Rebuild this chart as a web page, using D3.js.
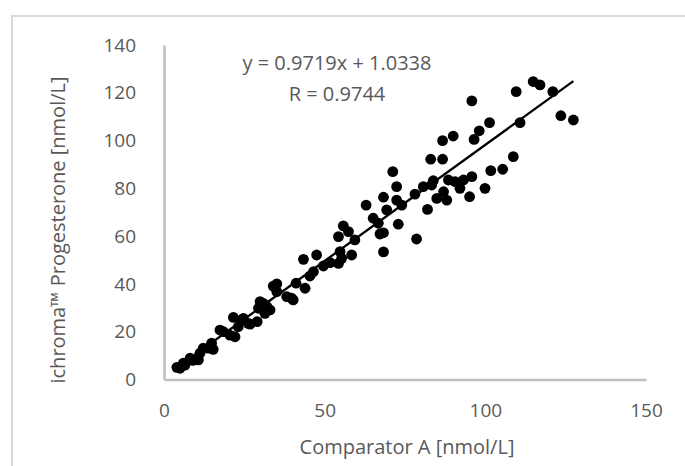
<!DOCTYPE html>
<html>
<head>
<meta charset="utf-8">
<script src="https://cdn.jsdelivr.net/npm/d3@7"></script>
<style>
  body { margin: 0; background: #fff; }
  text { font-family: "Open Sans", sans-serif; fill: #595959; }
</style>
</head>
<body>
<div id="chart"></div>
<script>
// comparator A values (x) and ichroma values (y)
var compA = [4.0, 5.0, 6.0, 6.5, 8.1, 9.0, 10.7, 11.2, 12.2, 13.8, 14.8, 15.3, 17.4, 18.5, 20.5, 22.1,
  21.6, 23.1, 24.2, 24.7, 26.2, 26.8, 29.0, 29.4, 29.9, 30.9, 32.0, 31.4, 33.0, 34.0, 35.1, 35.1,
  38.2, 39.7, 40.2, 41.1, 43.9, 43.4, 47.5, 45.4, 46.5, 49.6, 51.7, 54.3, 54.8, 55.3, 58.4, 55.8,
  57.4, 54.3, 59.4, 62.9, 65.1, 66.7, 67.2, 68.3, 68.3, 72.9, 78.6, 68.3, 69.3, 72.4, 74.0, 72.4,
  71.2, 78.1, 80.7, 83.3, 82.0, 84.9, 87.0, 88.0, 88.5, 83.8, 90.6, 92.1, 93.2, 95.8, 95.1, 99.9,
  101.7, 105.4, 108.7, 83.0, 86.7, 86.7, 90.0, 96.5, 98.1, 101.3, 95.8, 109.6, 110.8, 114.9, 117.0,
  121.0, 123.5, 127.4];
var ichroma = [5.1, 4.7, 6.8, 6.0, 8.9, 8.0, 8.2, 11.0, 13.1, 13.1, 15.2, 12.6, 20.7, 20.0, 18.6, 17.9,
  26.0, 22.1, 24.9, 25.6, 23.5, 23.2, 24.2, 29.8, 32.6, 31.9, 30.5, 27.7, 29.1, 39.1, 40.0, 36.8,
  34.7, 34.0, 33.3, 40.3, 38.2, 50.3, 52.1, 43.3, 45.1, 47.5, 48.9, 48.6, 53.5, 50.7, 52.1, 64.3,
  61.9, 59.8, 58.4, 73.0, 67.5, 65.4, 60.9, 61.4, 53.4, 65.0, 58.8, 76.3, 71.0, 75.1, 73.0, 80.7,
  87.0, 77.6, 80.7, 81.4, 71.2, 75.8, 78.6, 75.1, 83.5, 83.2, 82.8, 80.0, 83.5, 84.9, 76.5, 80.0,
  87.4, 88.0, 93.3, 92.2, 92.2, 100.0, 101.9, 100.5, 104.1, 107.5, 116.6, 120.5, 107.5, 124.7, 123.3,
  120.5, 110.4, 108.6];
var xTicks = [0, 50, 100, 150];
var yTicks = [0, 20, 40, 60, 80, 100, 120, 140];
var slope = 0.9719, intercept = 1.0338;
var eqLines = ["y = 0.9719x + 1.0338", "R = 0.9744"];

var W = 685, H = 466;
var svg = d3.select("#chart").append("svg")
  .attr("width", W).attr("height", H);

// outer chart border (runs off the picture on the right and bottom)
svg.append("rect")
  .attr("x", 12).attr("y", 16).attr("width", 700).attr("height", 500)
  .attr("fill", "none").attr("stroke", "#d9d9d9").attr("stroke-width", 2);

var x = d3.scaleLinear().domain([0, 150]).range([164, 646]);
var y = d3.scaleLinear().domain([0, 140]).range([379.5, 45]);

// axes: only the lines and labels, no tick marks
var xAxis = svg.append("g")
  .attr("transform", "translate(0," + y(0) + ")")
  .call(d3.axisBottom(x).tickValues(xTicks).tickSize(0).tickPadding(24));
xAxis.select(".domain").attr("stroke", "#bfbfbf").attr("stroke-width", 2.5);
xAxis.selectAll("text").style("font-size", "19px").attr("fill", "#595959");

var yAxis = svg.append("g")
  .attr("transform", "translate(" + x(0) + ",0)")
  .call(d3.axisLeft(y).tickValues(yTicks).tickSize(0).tickPadding(28));
yAxis.select(".domain").attr("stroke", "#bfbfbf").attr("stroke-width", 2.5);
yAxis.selectAll("text").style("font-size", "19px").attr("fill", "#595959");

// axis titles
svg.append("text")
  .attr("x", 407).attr("y", 454)
  .attr("text-anchor", "middle")
  .style("font-size", "20px")
  .text("Comparator A [nmol/L]");

svg.append("text")
  .attr("transform", "translate(65,230) rotate(-90)")
  .attr("text-anchor", "middle")
  .style("font-size", "20px")
  .text("ichroma\u2122 Progesterone [nmol/L]");

// points
var pts = compA.map(function(v, i) { return {a: v, b: ichroma[i]}; });
svg.selectAll("circle.pt")
  .data(pts)
  .enter()
  .append("circle")
    .attr("class", "pt")
    .attr("cx", function(d) { return x(d.a); })
    .attr("cy", function(d) { return y(d.b); })
    .attr("r", 5.4)
    .attr("fill", "#000");

// trend line over the x range of the data
var ext = d3.extent(compA);
svg.append("line")
  .attr("x1", x(ext[0])).attr("y1", y(slope * ext[0] + intercept))
  .attr("x2", x(ext[1])).attr("y2", y(slope * ext[1] + intercept))
  .attr("stroke", "#000").attr("stroke-width", 2.3);

// equation label
svg.selectAll("text.eq")
  .data(eqLines)
  .enter()
  .append("text")
    .attr("class", "eq")
    .attr("x", 337)
    .attr("y", function(d, i) { return 70 + i * 31; })
    .attr("text-anchor", "middle")
    .style("font-size", "20px")
    .text(function(d) { return d; });
</script>
</body>
</html>
